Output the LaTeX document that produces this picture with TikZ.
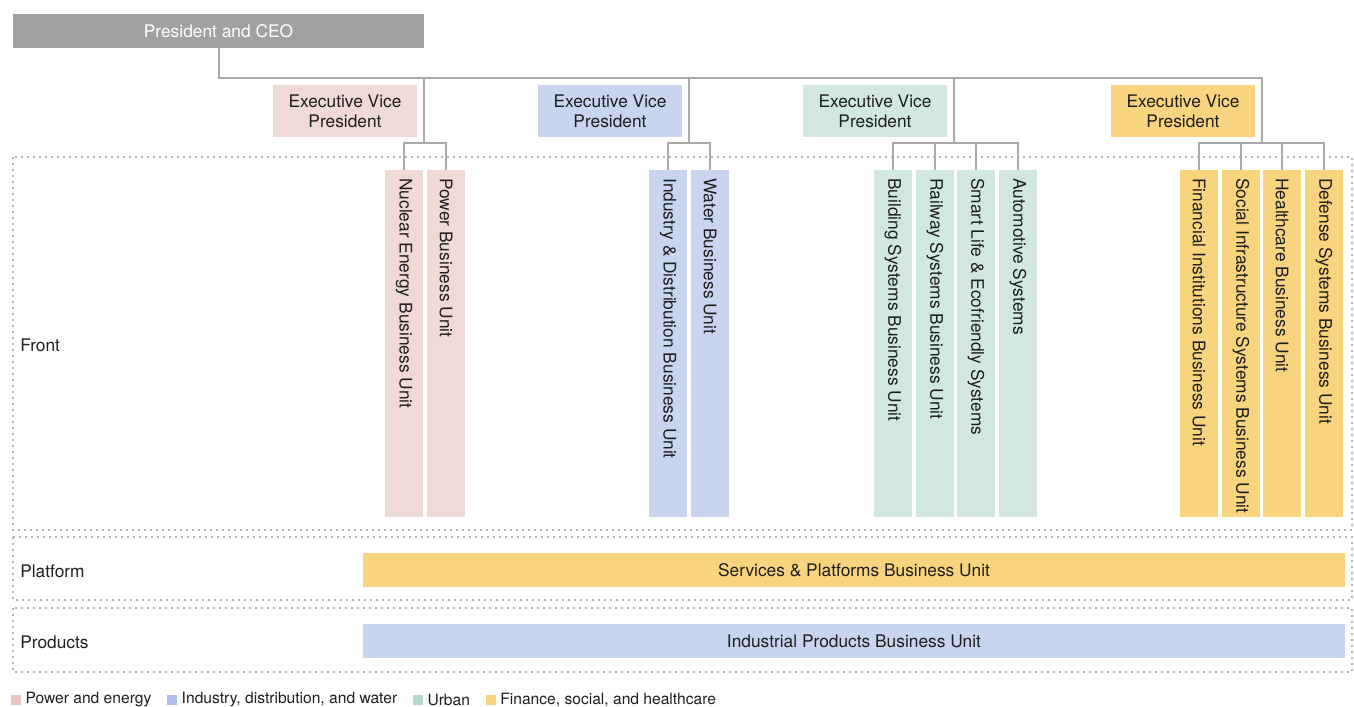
\documentclass[tikz,border=0pt]{standalone}
\usepackage{fontspec}
\setmainfont{TeX Gyre Heros}
\usetikzlibrary{positioning}

\definecolor{ceogray}{HTML}{A0A1A0}
\definecolor{linegray}{HTML}{A9A9A9}
\definecolor{dotgray}{HTML}{B4B4B4}
\definecolor{txtblack}{HTML}{1E1E1E}
\definecolor{pefill}{HTML}{F0DAD6}
\definecolor{idwfill}{HTML}{C9D4EE}
\definecolor{urbfill}{HTML}{D2E7DF}
\definecolor{fshfill}{HTML}{F9D47F}
\definecolor{pekey}{HTML}{E8C5BF}
\definecolor{idwkey}{HTML}{AFC1E9}
\definecolor{urbkey}{HTML}{B5D9C9}
\definecolor{fshkey}{HTML}{F9D47F}

\begin{document}
\begin{tikzpicture}[
    x=0.75pt, y=-0.75pt,
    font=\fontsize{13}{15}\selectfont, text=txtblack,
    ceobox/.style={fill=ceogray, text=white, minimum width=308.25pt, minimum height=25.5pt, inner sep=0pt},
    vpbox/.style={minimum width=108pt, minimum height=39pt, inner sep=0pt, align=center},
    unit/.style={rotate=-90, minimum height=28.5pt, inner xsep=6pt, inner ysep=0pt,
                 text width=248.25pt, align=flush left},
    bar/.style={minimum width=736.5pt, minimum height=25.5pt, inner sep=0pt},
    layer/.style={anchor=west, inner sep=0pt},
    frame/.style={draw=dotgray, line width=1.4pt, dash pattern=on 1.4pt off 3.1pt},
    conn/.style={draw=linegray, line width=1.5pt},
    key/.style={minimum size=7.5pt, inner sep=0pt},
    keytext/.style={font=\fontsize{11.7}{13}\selectfont, inner sep=0pt}
]
\useasboundingbox (0,0) rectangle (1354,707);

% ---- layer frames ----
\draw[frame] (13,157) rectangle (1352,530);
\draw[frame] (13,537) rectangle (1352,600);
\draw[frame] (13,608) rectangle (1352,672);

\node[layer] (front)    at (20,345) {Front};
\node[layer] (platform) at (20,571) {Platform};
\node[layer] (products) at (20,642) {Products};

% ---- top ----
\node[ceobox] (ceo) at (218.5,31) {President and CEO};

\node[vpbox, fill=pefill]  (vp-pe)  at (345,111)  {Executive Vice\\President};
\node[vpbox, fill=idwfill] (vp-idw) at (610,111)  {Executive Vice\\President};
\node[vpbox, fill=urbfill] (vp-urb) at (875,111)  {Executive Vice\\President};
\node[vpbox, fill=fshfill] (vp-fsh) at (1183,111) {Executive Vice\\President};

\coordinate (pe-hub)  at (424,143);
\coordinate (idw-hub) at (689,143);
\coordinate (urb-hub) at (954,143);
\coordinate (fsh-hub) at (1262,143);

% ---- front business units ----
\node[unit, fill=pefill, anchor=west]  (nuclear) at (404,170) {Nuclear Energy Business Unit};
\node[unit, fill=pefill, anchor=west]  (power)   at (446,170) {Power Business Unit};

\node[unit, fill=idwfill, anchor=west] (industry) at (668,170) {Industry \& Distribution Business Unit};
\node[unit, fill=idwfill, anchor=west] (water)    at (710,170) {Water Business Unit};

\node[unit, fill=urbfill, anchor=west] (building)   at (893,170)  {Building Systems Business Unit};
\node[unit, fill=urbfill, anchor=west] (railway)    at (935,170)  {Railway Systems Business Unit};
\node[unit, fill=urbfill, anchor=west] (smartlife)  at (976,170)  {Smart Life \& Ecofriendly Systems};
\node[unit, fill=urbfill, anchor=west] (automotive) at (1018,170) {Automotive Systems};

\node[unit, fill=fshfill, anchor=west] (financial)  at (1199,170) {Financial Institutions Business Unit};
\node[unit, fill=fshfill, anchor=west] (socialinfra) at (1241,170) {\mbox{Social Infrastructure Systems Business Unit}};
\node[unit, fill=fshfill, anchor=west] (healthcare) at (1282,170) {Healthcare Business Unit};
\node[unit, fill=fshfill, anchor=west] (defense)    at (1324,170) {Defense Systems Business Unit};

% ---- platform / products ----
\node[bar, fill=fshfill] (services)   at (854,570) {Services \& Platforms Business Unit};
\node[bar, fill=idwfill] (industrial) at (854,641) {Industrial Products Business Unit};

% ---- connectors ----
\draw[conn] (ceo.south) -- ++(0,30) -| (pe-hub);
\draw[conn] (ceo.south) -- ++(0,30) -| (idw-hub);
\draw[conn] (ceo.south) -- ++(0,30) -| (urb-hub);
\draw[conn] (ceo.south) -- ++(0,30) -| (fsh-hub);

\draw[conn] (pe-hub) -| (nuclear.west);
\draw[conn] (pe-hub) -| (power.west);
\draw[conn] (idw-hub) -| (industry.west);
\draw[conn] (idw-hub) -| (water.west);
\draw[conn] (urb-hub) -| (building.west);
\draw[conn] (urb-hub) -| (railway.west);
\draw[conn] (urb-hub) -| (smartlife.west);
\draw[conn] (urb-hub) -| (automotive.west);
\draw[conn] (fsh-hub) -| (financial.west);
\draw[conn] (fsh-hub) -| (socialinfra.west);
\draw[conn] (fsh-hub) -| (healthcare.west);
\draw[conn] (fsh-hub) -| (defense.west);

% ---- legend ----
\node[key, fill=pekey] (k-pe) at (16,700) {};
\node[keytext, right=3pt of k-pe] (t-pe) {Power and energy};
\node[key, fill=idwkey, right=11.5pt of t-pe] (k-idw) {};
\node[keytext, right=3pt of k-idw] (t-idw) {Industry, distribution, and water};
\node[key, fill=urbkey, right=11.5pt of t-idw] (k-urb) {};
\node[keytext, right=3pt of k-urb] (t-urb) {Urban};
\node[key, fill=fshkey, right=11.5pt of t-urb] (k-fsh) {};
\node[keytext, right=3pt of k-fsh] (t-fsh) {Finance, social, and healthcare};

\end{tikzpicture}
\end{document}
